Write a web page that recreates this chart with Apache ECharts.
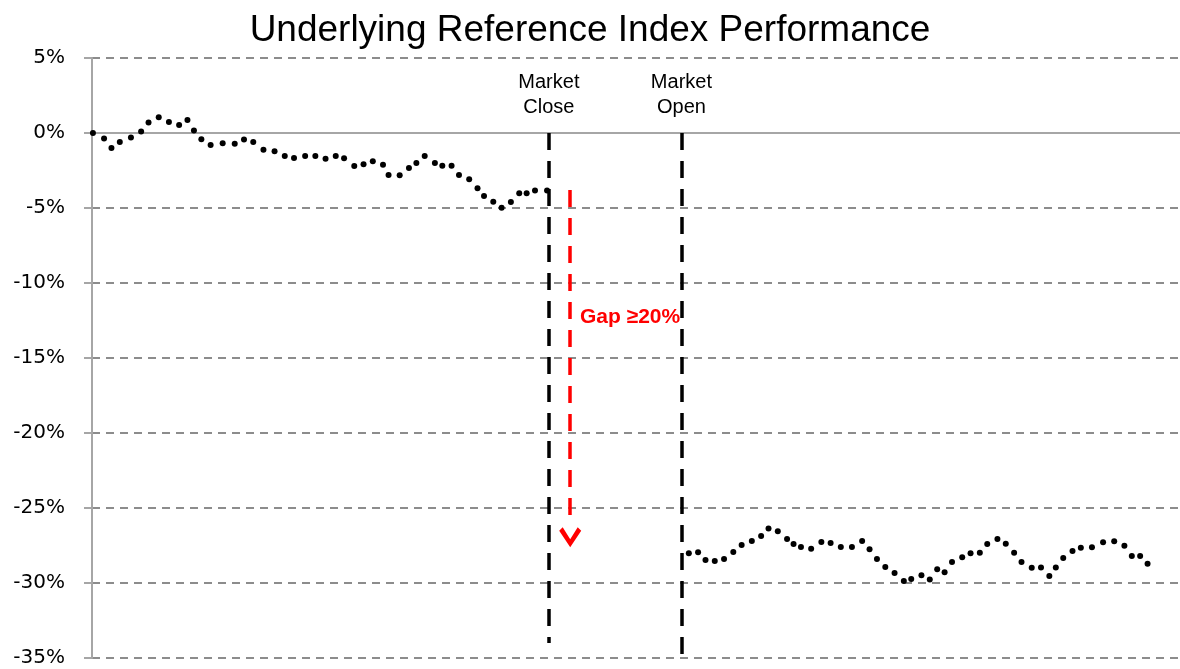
<!DOCTYPE html>
<html>
<head>
<meta charset="utf-8">
<script src="https://cdn.jsdelivr.net/npm/echarts@6/dist/echarts.min.js"></script>
<style>
html,body{margin:0;padding:0;background:#fff;}
#chart{width:1180px;height:669px;}
</style>
</head>
<body>
<div id="chart"></div>
<script>
// Time (x) and performance (%) before market close
const preCloseX = [0.1, 1.3, 2.1, 3.0, 4.2, 5.3, 6.1, 7.2, 8.3, 9.4, 10.3, 11.0, 11.8, 12.8, 14.1, 15.4, 16.4, 17.4, 18.5, 19.7, 20.8, 21.8, 23.0, 24.1, 25.2, 26.3, 27.2, 28.3, 29.3, 30.3, 31.4, 32.0, 33.2, 34.2, 35.0, 35.9, 37.0, 37.8, 38.8, 39.6, 40.7, 41.6, 42.3, 43.3, 44.2, 45.2, 46.1, 46.9, 47.8, 49.1];
const preCloseY = [0, -0.36, -1.0, -0.6, -0.3, 0.1, 0.7, 1.05, 0.73, 0.53, 0.87, 0.16, -0.42, -0.8, -0.69, -0.71, -0.44, -0.6, -1.11, -1.22, -1.53, -1.67, -1.53, -1.53, -1.71, -1.53, -1.69, -2.2, -2.09, -1.89, -2.11, -2.8, -2.82, -2.33, -2.0, -1.53, -2.0, -2.18, -2.18, -2.8, -3.09, -3.69, -4.2, -4.58, -4.98, -4.6, -4.02, -4.02, -3.84, -3.84];
// Time (x) and performance (%) after market open
const postOpenX = [64.4, 65.4, 66.2, 67.2, 68.2, 69.2, 70.1, 71.2, 72.2, 73.0, 74.0, 75.0, 75.7, 76.5, 77.6, 78.7, 79.7, 80.8, 82.0, 83.1, 83.9, 84.7, 85.6, 86.6, 87.6, 88.4, 89.5, 90.4, 91.2, 92.0, 92.8, 93.9, 94.8, 95.8, 96.6, 97.7, 98.6, 99.5, 100.3, 101.4, 102.4, 103.3, 104.0, 104.8, 105.8, 106.7, 107.9, 109.1, 110.3, 111.4, 112.2, 113.1, 113.9];
const postOpenY = [-28.02, -27.95, -28.47, -28.53, -28.4, -27.93, -27.47, -27.2, -26.87, -26.36, -26.55, -27.07, -27.4, -27.6, -27.71, -27.27, -27.33, -27.6, -27.6, -27.2, -27.75, -28.4, -28.93, -29.33, -29.87, -29.73, -29.49, -29.76, -29.09, -29.29, -28.6, -28.29, -28.02, -27.98, -27.4, -27.07, -27.38, -27.98, -28.6, -28.98, -28.96, -29.53, -28.96, -28.33, -27.87, -27.65, -27.62, -27.29, -27.22, -27.51, -28.2, -28.2, -28.71];
// Axis and annotations
const yMin = -35, yMax = 5, yStep = 5;
const xMax = 117.4;
const marketCloseX = 49.3;
const marketOpenX = 63.6;
const gapArrowX = 51.6;
const gapArrowTop = -3.8, gapArrowBottom = -25.6, gapArrowHead = -26.95;
const gapLabel = 'Gap ≥20%';
const gapLabelPos = [52.6, -12.25];
const closeLabel = 'Market\nClose', openLabel = 'Market\nOpen';
const marketLabelY = 2.55;
const closeLineBottom = -34;
const openLineBottom = -35;

const chart = echarts.init(document.getElementById('chart'));
const zip = (xs, ys) => xs.map((x, i) => [x, ys[i]]);

const blackDash = { color: '#000', width: 3.5, type: [17, 11] };

chart.setOption({
  animation: false,
  title: {
    text: 'Underlying Reference Index Performance',
    left: 'center',
    top: 7,
    textStyle: { fontFamily: 'Liberation Sans', fontSize: 37, fontWeight: 'normal', color: '#000' }
  },
  grid: { left: 92, right: 0, top: 58, bottom: 11, containLabel: false },
  xAxis: {
    type: 'value', min: 0, max: xMax,
    axisLine: { show: true, onZero: true, lineStyle: { color: '#a6a6a6', width: 2 } },
    axisTick: { show: false }, axisLabel: { show: false }, splitLine: { show: false }
  },
  yAxis: {
    type: 'value', min: yMin, max: yMax, interval: yStep,
    axisLine: { show: true, lineStyle: { color: '#a6a6a6', width: 2 } },
    axisTick: { show: true, length: 8, lineStyle: { color: '#a6a6a6', width: 2 } },
    axisLabel: { formatter: '{value}%', fontFamily: 'DejaVu Sans', fontSize: 20, color: '#000', margin: 27 },
    splitLine: { show: true, lineStyle: { color: '#8c8c8c', width: 2, type: [8, 6] } }
  },
  series: [
    {
      type: 'scatter', name: 'Before close',
      data: zip(preCloseX, preCloseY),
      symbol: 'circle', symbolSize: 6,
      itemStyle: { color: '#000', opacity: 1 },
      markLine: {
        silent: true, symbol: ['none', 'none'], label: { show: false },
        data: [
          [{ coord: [marketCloseX, 0], lineStyle: blackDash }, { coord: [marketCloseX, closeLineBottom] }],
          [{ coord: [marketOpenX, 0], lineStyle: blackDash }, { coord: [marketOpenX, openLineBottom] }],
          [{ coord: [gapArrowX, gapArrowTop], lineStyle: { color: '#ff0000', width: 3.5, type: [17, 11] } }, { coord: [gapArrowX, gapArrowBottom] }]
        ]
      },
      markPoint: {
        silent: true,
        data: [
          { coord: [marketCloseX, marketLabelY], symbol: 'rect', symbolSize: 1, itemStyle: { color: 'rgba(0,0,0,0)' },
            label: { show: true, position: 'inside', formatter: closeLabel, fontFamily: 'Liberation Sans', fontSize: 20, lineHeight: 25, color: '#000' } },
          { coord: [marketOpenX, marketLabelY], symbol: 'rect', symbolSize: 1, itemStyle: { color: 'rgba(0,0,0,0)' },
            label: { show: true, position: 'inside', formatter: openLabel, fontFamily: 'Liberation Sans', fontSize: 20, lineHeight: 25, color: '#000' } },
          { coord: gapLabelPos, symbol: 'rect', symbolSize: 1, itemStyle: { color: 'rgba(0,0,0,0)' },
            label: { show: true, position: 'right', distance: 0, formatter: gapLabel, fontFamily: 'Liberation Sans', fontSize: 21, fontWeight: 'bold', color: '#ff0000' } },
          { coord: [gapArrowX, gapArrowHead], symbol: 'path://M0,3.5 L3.5,0 L11,12 L18.5,0 L22,3.5 L11,20 Z', symbolSize: [22, 20],
            itemStyle: { color: '#ff0000' }, label: { show: false } }
        ]
      }
    },
    {
      type: 'scatter', name: 'After open',
      data: zip(postOpenX, postOpenY),
      symbol: 'circle', symbolSize: 6,
      itemStyle: { color: '#000', opacity: 1 }
    }
  ]
});
</script>
</body>
</html>
